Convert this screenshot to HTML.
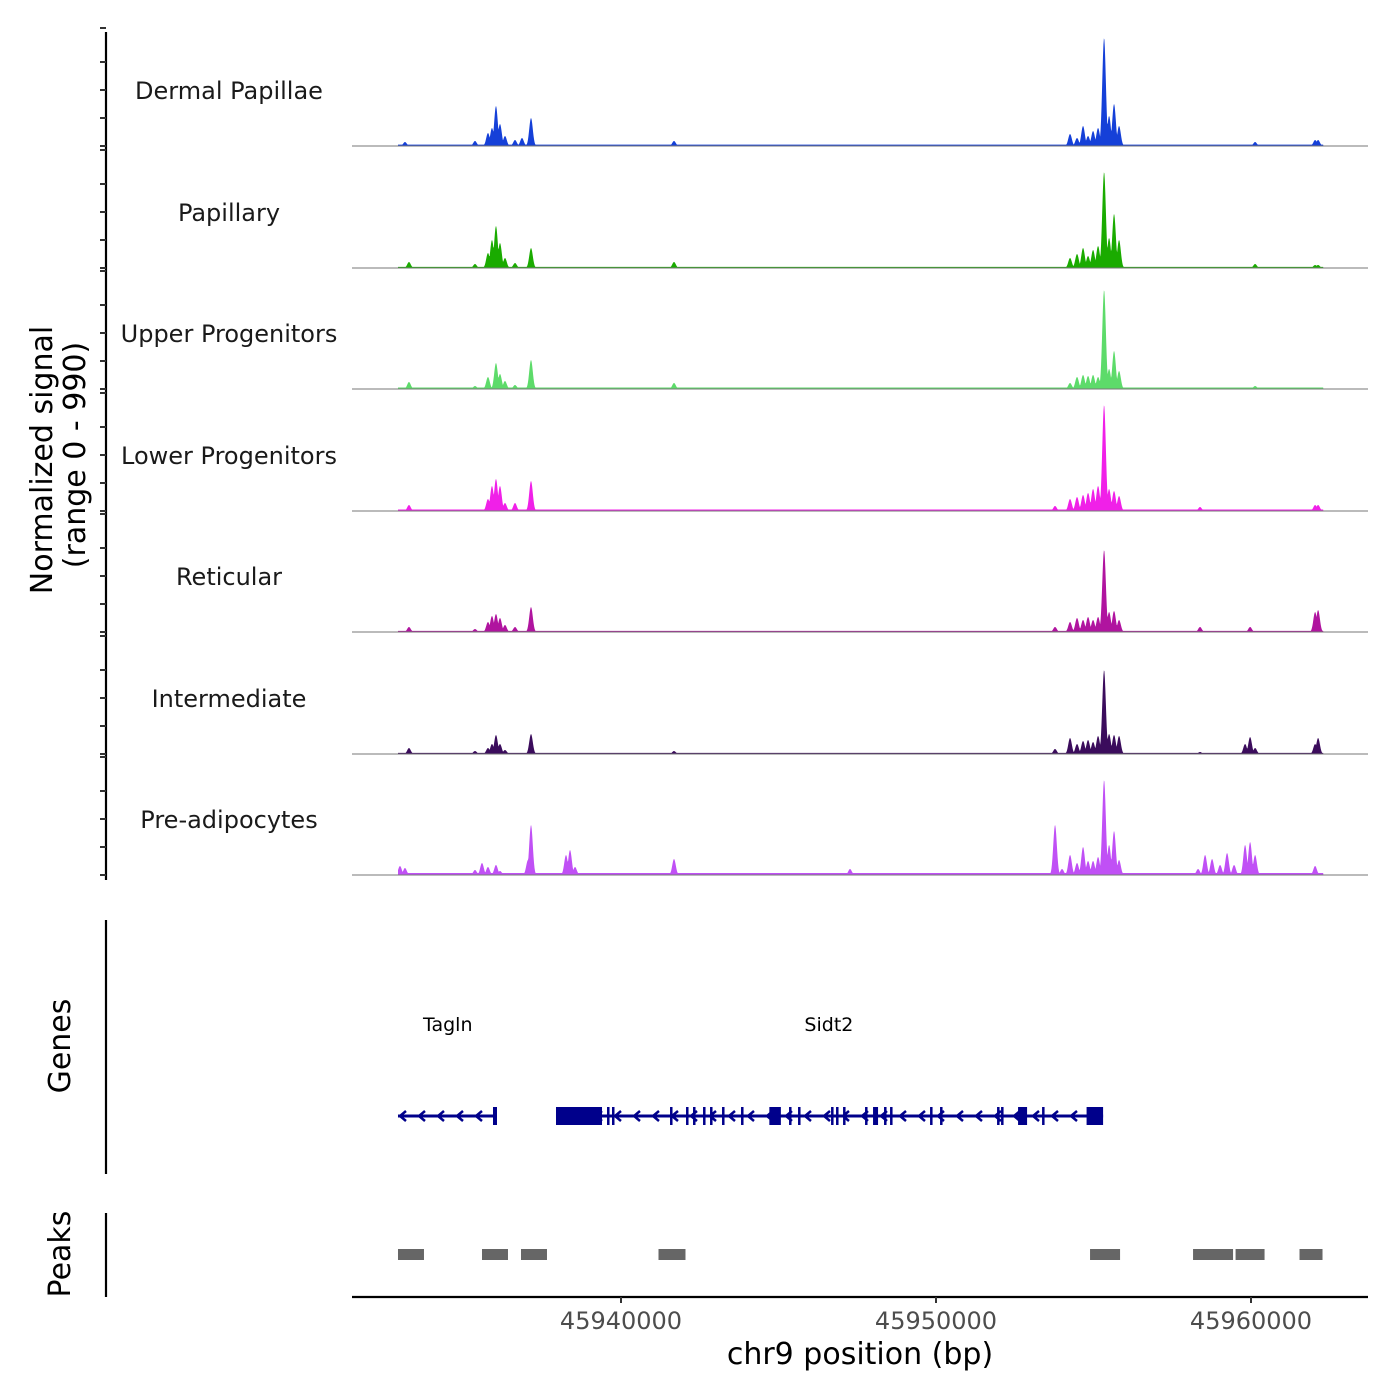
<!DOCTYPE html>
<html><head><meta charset="utf-8">
<style>
html,body{margin:0;padding:0;background:#fff;}
svg{display:block;font-family:"DejaVu Sans","Liberation Sans",sans-serif;}
</style></head>
<body>
<svg id="chart" width="1400" height="1400" viewBox="0 0 1400 1400" xmlns="http://www.w3.org/2000/svg">
<g id="tracks"></g>
<g id="axes"></g>
<g id="genes"></g>
<g id="peaks"></g>
<text transform="translate(52,460) rotate(-90)" text-anchor="middle" font-size="30" fill="#000">Normalized signal</text>
<text transform="translate(85,455) rotate(-90)" text-anchor="middle" font-size="30" fill="#000">(range 0 - 990)</text>
<text transform="translate(70,1046) rotate(-90)" text-anchor="middle" font-size="30" fill="#000">Genes</text>
<text transform="translate(70,1254) rotate(-90)" text-anchor="middle" font-size="30" fill="#000">Peaks</text>
<text x="860" y="1364" text-anchor="middle" font-size="30" fill="#000">chr9 position (bp)</text>
</svg>
<script>
// ---- data ----
const trackNames = ["Dermal Papillae","Papillary","Upper Progenitors","Lower Progenitors","Reticular","Intermediate","Pre-adipocytes"];
const trackColors = ["#1540d8","#1aab00","#5ddb6a","#f020e8","#b0149f","#3b0c5c","#c050f5"];
const xTicks = [45940000,45950000,45960000];
const yMax = 990;
const bgLevel = [12,10,14,14,10,10,18];
const peaksDP = [[45933142,36],[45935365,45],[45935777,117],[45935904,162],[45936031,360],[45936158,198],[45936317,90],[45936635,54],[45936857,72],[45937143,252],[45941683,45],[45954255,108],[45954477,72],[45954668,180],[45954827,90],[45954986,135],[45955145,162],[45955335,972],[45955494,270],[45955652,378],[45955811,180],[45960130,36],[45962035,54],[45962130,54]];
const peaksPap = [[45933269,54],[45935365,36],[45935777,135],[45935904,252],[45936031,378],[45936158,225],[45936317,90],[45936635,45],[45937143,180],[45941683,54],[45954255,90],[45954477,126],[45954668,180],[45954827,108],[45954986,162],[45955145,198],[45955335,864],[45955494,270],[45955652,486],[45955811,252],[45960130,36],[45962035,27],[45962130,27]];
const peaksUp = [[45933269,63],[45935365,27],[45935777,108],[45936031,234],[45936158,135],[45936317,72],[45936635,36],[45937143,261],[45941683,54],[45954255,54],[45954477,108],[45954668,126],[45954827,117],[45954986,126],[45955145,108],[45955335,891],[45955494,180],[45955652,342],[45955811,162],[45960130,27]];
const peaksLow = [[45933269,54],[45935777,108],[45935904,225],[45936031,288],[45936158,225],[45936317,72],[45936635,72],[45937143,270],[45953779,45],[45954255,108],[45954477,126],[45954668,144],[45954827,162],[45954986,198],[45955145,225],[45955335,954],[45955494,198],[45955652,180],[45955811,135],[45958381,36],[45962035,54],[45962130,54]];
const peaksRet = [[45933269,45],[45935365,27],[45935777,90],[45935904,144],[45936031,162],[45936158,126],[45936317,63],[45936635,45],[45937143,225],[45953779,45],[45954255,90],[45954477,126],[45954668,108],[45954827,135],[45954986,108],[45955145,135],[45955335,738],[45955494,180],[45955652,189],[45955811,108],[45958381,45],[45959971,45],[45962035,180],[45962130,198]];
const peaksInt = [[45933269,54],[45935365,27],[45935777,54],[45935904,90],[45936031,171],[45936158,90],[45936317,36],[45937143,180],[45941683,27],[45953779,45],[45954255,144],[45954477,90],[45954668,117],[45954827,126],[45954986,108],[45955145,162],[45955335,756],[45955494,180],[45955652,171],[45955811,162],[45958381,18],[45959812,90],[45959971,153],[45960130,54],[45962035,90],[45962130,144]];
const peaksPre = [[45932983,81],[45933142,63],[45935365,45],[45935587,108],[45935777,72],[45936031,90],[45936158,36],[45937047,135],[45937143,450],[45938254,180],[45938381,225],[45938540,72],[45941683,144],[45947270,54],[45953779,450],[45954001,54],[45954255,180],[45954477,108],[45954668,252],[45954827,126],[45954986,126],[45955145,162],[45955335,855],[45955494,270],[45955652,396],[45955811,135],[45958320,54],[45958542,180],[45958764,144],[45959018,90],[45959240,198],[45959463,90],[45959812,270],[45959971,297],[45960130,180],[45962035,81]];
const trackPeaks = [peaksDP,peaksPap,peaksUp,peaksLow,peaksRet,peaksInt,peaksPre];
const geneNames = ["Tagln","Sidt2"];
const geneStarts = [45932920,45937936];
const geneEnds = [45936063,45955304];
const geneLabelPos = [45934500,45946600];
const exonStarts = [[45935936],[45937936,45939556,45939714,45941556,45942064,45942286,45942604,45942826,45943207,45943810,45944709,45945334,45945620,45946668,45946826,45947049,45947747,45948001,45948350,45948541,45949811,45950128,45951938,45952065,45952605,45953367,45954780]];
const exonEnds = [[45936063],[45939397,45939620,45939780,45941620,45942130,45942350,45942670,45942890,45943270,45943875,45945075,45945400,45945685,45946730,45946890,45947110,45947810,45948160,45948410,45948605,45949875,45950190,45952000,45952130,45952891,45953430,45955304]];
const peakStarts = [45932920,45935587,45936825,45941190,45954890,45958160,45959510,45961540];
const peakEnds = [45933745,45936412,45937650,45942047,45955843,45959430,45960430,45962270];

// ---- scales ----
const X0=352, X1=1368, BP0=45931460, BP1=45963714;
const xs = bp => X0 + (bp-BP0)/(BP1-BP0)*(X1-X0);
const baselines = [146,268,389,511,632,754,875];
const trackH = 110;
const ys = (v,i) => baselines[i] - v/yMax*trackH;
const NS="http://www.w3.org/2000/svg";
function mk(tag, attrs, parent){const e=document.createElementNS(NS,tag);for(const k in attrs)e.setAttribute(k,attrs[k]);parent.appendChild(e);return e;}

// ---- signal tracks ----
const gT=document.getElementById('tracks');
const dataStart=45932920, dataEnd=45962300, w=80;
for(let i=0;i<trackNames.length;i++){
  let d="M"+xs(dataStart).toFixed(2)+","+baselines[i];
  for(let bp=dataStart; bp<=dataEnd; bp+=15){
    let v=bgLevel[i];
    for(const p of trackPeaks[i]){const t=(bp-p[0])/w; if(Math.abs(t)<5){v=Math.max(v,p[1]*Math.exp(-t*t));}}
    d+=" L"+xs(bp).toFixed(2)+","+ys(v,i).toFixed(2);
  }
  d+=" L"+xs(dataEnd).toFixed(2)+","+baselines[i]+" Z";
  const path=mk('path',{d:d,fill:trackColors[i]},gT);
  
  
  const bl=mk('line',{x1:X0,x2:X1,y1:baselines[i],y2:baselines[i],stroke:"#777","stroke-width":1},gT);
  
  
  const lab=mk('text',{x:229,y:baselines[i]-47,"text-anchor":"middle","font-size":"24",fill:"#1a1a1a"},gT);
  lab.textContent=trackNames[i];
  
  
}

// ---- axes ----
const gA=document.getElementById('axes');
const ya=mk('line',{x1:106,x2:106,y1:32,y2:880,stroke:"#000","stroke-width":2.2},gA);


for(let i=0;i<baselines.length;i++){
  for(const off of [0,28,56,84,118]){
    const t=mk('line',{x1:100,x2:106,y1:baselines[i]-off,y2:baselines[i]-off,stroke:"#333","stroke-width":2},gA);
    
    
  }
}
const ga=mk('line',{x1:106,x2:106,y1:920,y2:1174,stroke:"#000","stroke-width":2.2},gA);


const pa=mk('line',{x1:106,x2:106,y1:1213,y2:1297,stroke:"#000","stroke-width":2.2},gA);


const xa=mk('line',{x1:X0,x2:X1,y1:1297,y2:1297,stroke:"#000","stroke-width":2.2},gA);


for(const t of xTicks){
  const tk=mk('line',{x1:xs(t),x2:xs(t),y1:1297,y2:1303,stroke:"#333","stroke-width":2},gA);
  
  
  const tl=mk('text',{x:xs(t),y:1329,"text-anchor":"middle","font-size":"24",fill:"#4d4d4d"},gA);
  tl.textContent=t;
  
  
}

// ---- genes ----
const gG=document.getElementById('genes');
const gy=1116;
for(let g=0; g<geneNames.length; g++){
  const x1=xs(geneStarts[g]), x2=xs(geneEnds[g]);
  const ln=mk('line',{x1:x1,x2:x2,y1:gy,y2:gy,stroke:"#00008b","stroke-width":3},gG);
  
  
  for(let ax=x1+2; ax<x2-8; ax+=19){
    const ar=mk('path',{d:`M${ax+6},${gy-5} L${ax},${gy} L${ax+6},${gy+5}`,fill:"none",stroke:"#00008b","stroke-width":2.5},gG);
    
    
  }
  for(let e=0;e<exonStarts[g].length;e++){
    const ex1=xs(exonStarts[g][e]), ex2=xs(exonEnds[g][e]);
    const r=mk('rect',{x:ex1,y:gy-9,width:Math.max(2.5,ex2-ex1),height:18,fill:"#00008b"},gG);
    
    
  }
  const lbl=mk('text',{x:xs(geneLabelPos[g]),y:1031,"text-anchor":"middle","font-size":"19",fill:"#000"},gG);
  lbl.textContent=geneNames[g];
  
  
}

// ---- peaks ----
const gP=document.getElementById('peaks');
for(let i=0;i<peakStarts.length;i++){
  const r=mk('rect',{x:xs(peakStarts[i]),y:1249,width:xs(peakEnds[i])-xs(peakStarts[i]),height:11,fill:"#666"},gP);
  
  
}
</script>
</body></html>
